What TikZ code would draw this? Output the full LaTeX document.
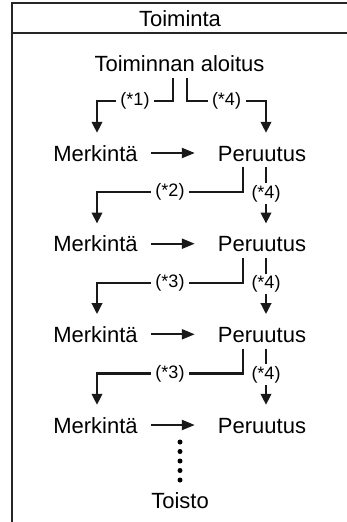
\documentclass[tikz,border=0pt]{standalone}
\usepackage{fontspec}
\setmainfont{Liberation Sans}
\usetikzlibrary{arrows.meta}
\begin{document}
\begin{tikzpicture}[x=1pt,y=-1pt,
  txt/.style={font=\fontsize{22}{26}\selectfont, text height=16pt, text depth=5pt, inner sep=1pt, anchor=base},
  lbl/.style={font=\fontsize{18}{21}\selectfont, fill=white, inner xsep=4.5pt, inner ysep=2pt},
  conn/.style={line width=2.3pt, draw=black!90},
  arr/.style={conn, -{Triangle[length=11pt,width=10.5pt]}, shorten >=11pt},
  harr/.style={conn, -{Triangle[length=13pt,width=10pt]}, shorten <=12pt, shorten >=22pt},
  frame/.style={line width=1.8pt, draw=black!85},
  dots/.style={line width=5pt, line cap=round, dash pattern=on 0pt off 9.5pt}]
\useasboundingbox (0,0) rectangle (347,522);
\draw[frame] (12,522) -- (12,3) -- (347,3);
\draw[frame] (12,33) -- (347,33);
\node[txt] (head) at (180,26.7) {Toiminta};
\node[txt] (start) at (179.5,71.7) {Toiminnan aloitus};
\node[txt] (m1) at (95.5,161) {Merkintä};
\node[txt] (p1) at (262,161) {Peruutus};
\node[txt] (m2) at (95.5,251.7) {Merkintä};
\node[txt] (p2) at (262,251.7) {Peruutus};
\node[txt] (m3) at (95.5,342.3) {Merkintä};
\node[txt] (p3) at (262,342.3) {Peruutus};
\node[txt] (m4) at (95.5,433) {Merkintä};
\node[txt] (p4) at (262,433) {Peruutus};
\node[txt] (toisto) at (180,508) {Toisto};
% start brackets
\draw[arr] ([xshift=-6.5pt]start.south) -- ++(0,23) -| node[lbl,pos=0.25]{(*1)} ([xshift=1.5pt]m1.north);
\draw[arr] ([xshift=7.5pt]start.south) -- ++(0,23) -| node[lbl,pos=0.25]{(*4)} ([xshift=4pt]p1.north);
% horizontal arrows
\draw[harr] ([yshift=2.5pt]m1.east) -- ([yshift=2.5pt]p1.west);
\draw[harr] ([yshift=2.5pt]m2.east) -- ([yshift=2.5pt]p2.west);
\draw[harr] ([yshift=2.5pt]m3.east) -- ([yshift=2.5pt]p3.west);
\draw[harr] ([yshift=2.5pt]m4.east) -- ([yshift=2.5pt]p4.west);
% row brackets
\draw[arr] ([xshift=-19pt]p1.south) -- ++(0,25) -| node[lbl,pos=0.25]{(*2)} ([xshift=1.5pt]m2.north);
\draw[arr] ([xshift=4pt]p1.south) -- node[lbl,pos=0.39]{(*4)} ([xshift=4pt]p2.north);
\draw[arr] ([xshift=-19pt]p2.south) -- ++(0,25) -| node[lbl,pos=0.25]{(*3)} ([xshift=1.5pt]m3.north);
\draw[arr] ([xshift=4pt]p2.south) -- node[lbl,pos=0.39]{(*4)} ([xshift=4pt]p3.north);
\draw[arr] ([xshift=-19pt]p3.south) -- ++(0,25) -| node[lbl,pos=0.25]{(*3)} ([xshift=1.5pt]m4.north);
\draw[arr] ([xshift=4pt]p3.south) -- node[lbl,pos=0.39]{(*4)} ([xshift=4pt]p4.north);
% dotted continuation
\coordinate (dstart) at (180,442);
\draw[dots, shorten >=10.5pt] (dstart) -- (toisto.north);
\end{tikzpicture}
\end{document}
